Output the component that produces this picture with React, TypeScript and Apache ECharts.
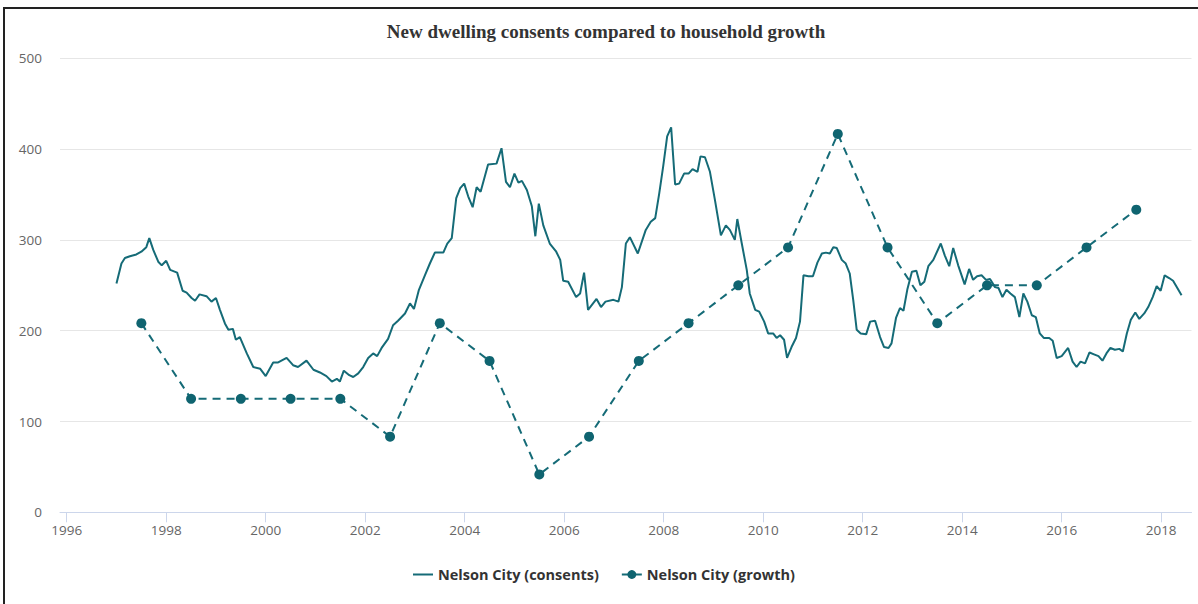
import React, { useEffect, useRef } from "react";
import * as echarts from "echarts";

const chartTitle = "New dwelling consents compared to household growth";
const consentsName = "Nelson City (consents)";
const growthName = "Nelson City (growth)";

const xTickYears = [1996, 1998, 2000, 2002, 2004, 2006, 2008, 2010, 2012, 2014, 2016, 2018];

const consentsYears = [
  1997.0, 1997.1, 1997.17, 1997.27, 1997.4, 1997.5, 1997.6, 1997.66, 1997.74, 1997.84, 1997.91,
  1998.0, 1998.08, 1998.22, 1998.33, 1998.41, 1998.51, 1998.58, 1998.67, 1998.81, 1998.91,
  1999.0, 1999.08, 1999.18, 1999.25, 1999.34, 1999.4, 1999.48, 1999.62, 1999.75, 1999.89,
  2000.0, 2000.15, 2000.25, 2000.42, 2000.55, 2000.65, 2000.82, 2000.96,
  2001.09, 2001.22, 2001.33, 2001.43, 2001.49, 2001.57, 2001.68, 2001.76, 2001.86, 2001.96,
  2002.06, 2002.16, 2002.24, 2002.33, 2002.46, 2002.56, 2002.66, 2002.8, 2002.9, 2002.98,
  2003.08, 2003.2, 2003.3, 2003.4, 2003.57, 2003.65, 2003.74, 2003.83, 2003.91, 2003.99,
  2004.07, 2004.16, 2004.24, 2004.32, 2004.47, 2004.64, 2004.74, 2004.83, 2004.91,
  2005.0, 2005.08, 2005.15, 2005.25, 2005.35, 2005.42, 2005.49, 2005.58, 2005.71, 2005.84, 2005.92, 2005.98,
  2006.08, 2006.24, 2006.32, 2006.4, 2006.48, 2006.65, 2006.74, 2006.83, 2006.99,
  2007.09, 2007.16, 2007.24, 2007.32, 2007.48, 2007.64, 2007.74, 2007.83, 2007.91, 2007.99,
  2008.07, 2008.15, 2008.23, 2008.31, 2008.41, 2008.5, 2008.58, 2008.68, 2008.74, 2008.83, 2008.93,
  2009.03, 2009.15, 2009.25, 2009.33, 2009.43, 2009.48, 2009.57, 2009.67, 2009.73, 2009.84, 2009.92,
  2010.02, 2010.1, 2010.2, 2010.27, 2010.34, 2010.42, 2010.48, 2010.57, 2010.66, 2010.74, 2010.81, 2010.91,
  2011.0, 2011.09, 2011.18, 2011.26, 2011.34, 2011.41, 2011.48, 2011.58, 2011.66, 2011.74, 2011.81, 2011.88, 2011.96,
  2012.07, 2012.15, 2012.25, 2012.35, 2012.43, 2012.52, 2012.58, 2012.67, 2012.75, 2012.82, 2012.9, 2012.99,
  2013.08, 2013.16, 2013.24, 2013.32, 2013.42, 2013.57, 2013.65, 2013.74, 2013.82, 2013.92,
  2014.05, 2014.14, 2014.22, 2014.3, 2014.39, 2014.48, 2014.56, 2014.66, 2014.73, 2014.81, 2014.89, 2014.97,
  2015.06, 2015.15, 2015.23, 2015.31, 2015.4, 2015.48, 2015.56, 2015.64, 2015.75, 2015.82, 2015.9,
  2016.0, 2016.13, 2016.22, 2016.3, 2016.38, 2016.47, 2016.56, 2016.65, 2016.74, 2016.82, 2016.9, 2016.98,
  2017.07, 2017.16, 2017.23, 2017.31, 2017.39, 2017.48, 2017.56, 2017.66, 2017.74, 2017.83, 2017.91, 2017.99,
  2018.07, 2018.16, 2018.24, 2018.41,
];

const consentsValues = [
  252, 274, 280, 282, 284, 287, 292, 302, 289, 276, 272,
  277, 267, 264, 244, 242, 236, 233, 240, 238, 232,
  236, 223, 208, 201, 202, 190, 193, 175, 160, 158,
  150, 165, 165, 170, 162, 160, 167, 157,
  154, 150, 144, 147, 144, 156, 151, 149, 153, 160,
  170, 175, 172, 181, 191, 206, 211, 219, 230, 224,
  245, 261, 274, 286, 286, 296, 302, 346, 357, 362,
  348, 336, 358, 353, 383, 384, 401, 364, 358,
  373, 363, 365, 355, 337, 304, 340, 316, 296, 287, 278, 255,
  254, 237, 241, 264, 223, 235, 226, 232, 234,
  232, 248, 296, 303, 285, 311, 320, 324, 351, 381,
  414, 424, 361, 362, 373, 373, 378, 375, 392, 391, 375,
  344, 305, 316, 311, 300, 323, 296, 267, 241, 223, 221,
  210, 197, 197, 192, 195, 190, 170, 182, 192, 210, 261, 260,
  260, 275, 285, 286, 285, 292, 291, 278, 274, 263, 234, 201, 197,
  196, 210, 211, 193, 182, 181, 186, 214, 225, 222, 246, 265,
  266, 250, 254, 271, 278, 296, 283, 271, 291, 272,
  251, 268, 256, 260, 261, 256, 257, 248, 247, 237, 245, 241,
  237, 215, 241, 232, 217, 215, 197, 192, 192, 189, 170,
  172, 181, 166, 160, 166, 164, 176, 174, 172, 167, 175, 181,
  179, 180, 177, 197, 212, 220, 213, 219, 226, 237, 249, 244,
  261, 258, 255, 239,
];

const growthYears = [
  1997.5, 1998.5, 1999.5, 2000.5, 2001.5, 2002.5, 2003.5, 2004.5, 2005.5, 2006.5, 2007.5,
  2008.5, 2009.5, 2010.5, 2011.5, 2012.5, 2013.5, 2014.5, 2015.5, 2016.5, 2017.5,
];
const growthValues = [
  208.3, 125, 125, 125, 125, 83.3, 208.3, 166.7, 41.7, 83.3, 166.7,
  208.3, 250, 291.7, 416.7, 291.7, 208.3, 250, 250, 291.7, 333.3,
];

const LINE_COLOR = "#156b77";
const DOT_COLOR = "#0f6470";

export default function App() {
  const ref = useRef<HTMLDivElement>(null);

  useEffect(() => {
    if (!ref.current) return;
    const chart = echarts.init(ref.current, null, { renderer: "svg" });
    const consentsData = consentsYears.map((y, i) => [y, consentsValues[i]]);
    const growthData = growthYears.map((y, i) => [y, growthValues[i]]);
    const labelFont = "'Open Sans', 'Noto Sans', sans-serif";

    chart.setOption({
      animation: false,
      backgroundColor: "#ffffff",
      title: {
        text: chartTitle,
        left: 601,
        textAlign: "center",
        top: 17,
        textStyle: {
          fontFamily: "'Liberation Serif', 'Times New Roman', serif",
          fontWeight: "bold",
          fontSize: 19,
          color: "#333333",
        },
      },
      legend: {
        left: 407,
        top: 562,
        itemWidth: 20,
        itemHeight: 11,
        itemGap: 22,
        textStyle: {
          fontFamily: labelFont,
          fontWeight: "bold",
          fontSize: 14.5,
          color: "#333333",
        },
        data: [
          { name: consentsName, itemStyle: { opacity: 0 } },
          { name: growthName },
        ],
      },
      grid: {
        left: 60,
        right: 6.5,
        top: 58.3,
        bottom: 91.7,
        containLabel: false,
      },
      xAxis: {
        type: "value",
        min: 1995.865,
        max: 2018.61,
        axisLine: { show: true, lineStyle: { color: "#ccd6eb", width: 1 } },
        axisTick: {
          show: true,
          length: 10,
          customValues: xTickYears,
          lineStyle: { color: "#ccd6eb", width: 1 },
        },
        axisLabel: {
          customValues: xTickYears,
          formatter: (v: number) => String(Math.round(v)),
          color: "#666666",
          fontFamily: labelFont,
          fontSize: 13.5,
          margin: 11,
        },
        splitLine: { show: false },
      },
      yAxis: {
        type: "value",
        min: 0,
        max: 500,
        interval: 100,
        axisLine: { show: false },
        axisTick: { show: false },
        axisLabel: {
          color: "#666666",
          fontFamily: labelFont,
          fontSize: 13.5,
          margin: 18,
        },
        splitLine: { lineStyle: { color: "#e6e6e6", width: 1 } },
      },
      series: [
        {
          name: consentsName,
          type: "line",
          data: consentsData,
          symbol: "none",
          showSymbol: false,
          color: LINE_COLOR,
          lineStyle: { color: LINE_COLOR, width: 2 },
          z: 2,
        },
        {
          name: growthName,
          type: "line",
          data: growthData,
          symbol: "circle",
          symbolSize: 10,
          color: DOT_COLOR,
          itemStyle: { color: DOT_COLOR },
          lineStyle: { color: LINE_COLOR, width: 2, type: [8, 6] },
          z: 3,
        },
      ],
    });

    return () => chart.dispose();
  }, []);

  return (
    <div style={{ position: "fixed", left: 0, top: 0, width: 1198, height: 604, background: "#fff" }}>
      <div ref={ref} style={{ position: "absolute", left: 0, top: 0, width: 1198, height: 604 }} />
      <div
        style={{
          position: "absolute",
          left: 3,
          top: 7,
          width: 1210,
          height: 620,
          borderLeft: "2px solid #222",
          borderTop: "2px solid #222",
          pointerEvents: "none",
        }}
      />
    </div>
  );
}
